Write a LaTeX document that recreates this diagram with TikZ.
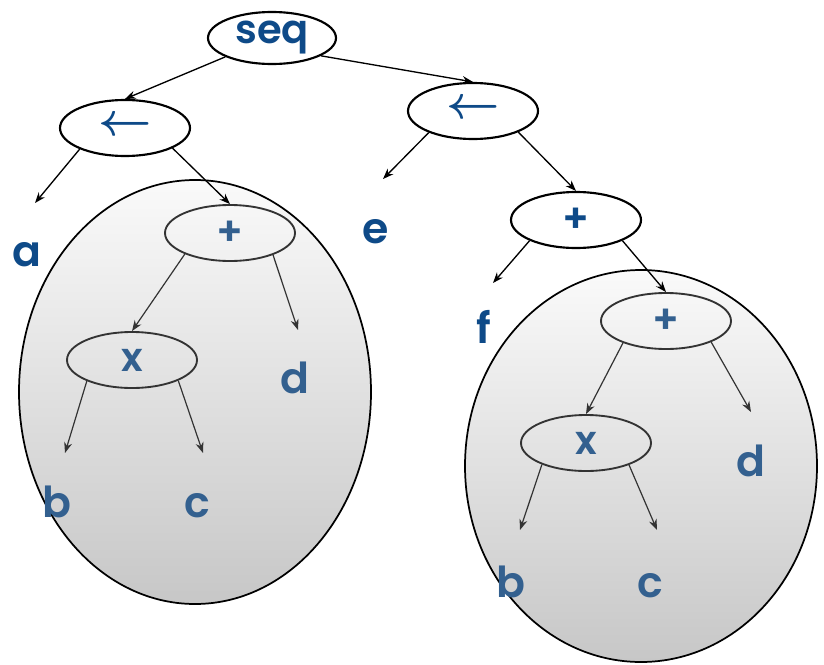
\documentclass[tikz,border=0pt]{standalone}
\usepackage{graphicx}
\usepackage{fontspec}
\setmainfont{Poppins SemiBold}
\usetikzlibrary{shapes.geometric,arrows.meta}
\definecolor{outblue}{HTML}{0E4A88}
\definecolor{inblue}{HTML}{33608F}
\definecolor{ingray}{HTML}{333333}
\newcommand{\larr}{\raisebox{2pt}{\scalebox{1.4}{\boldmath$\leftarrow$}}}
\tikzset{
  opnode/.style={ellipse, draw=black, line width=1.6pt, fill=white, inner sep=0pt,
    minimum width=97.5pt, minimum height=42pt, text=outblue,
    font=\fontsize{30}{30}\selectfont},
  inop/.style={opnode, draw=ingray, line width=1.4pt, fill=none, text=inblue},
  leaf/.style={anchor=base, inner sep=0pt, text=outblue, font=\fontsize{32}{32}\selectfont},
  inleaf/.style={leaf, text=inblue},
  bubble/.style={ellipse, draw=black, line width=1.3pt, top color=black!2, bottom color=black!22, inner sep=0pt},
  conn/.style={draw=black, line width=1pt, -{Stealth[length=8pt,width=6pt]}},
  inconn/.style={conn, draw=ingray, line width=0.9pt, -{Stealth[length=8pt,width=6pt,fill=ingray]}}
}
\begin{document}
\begin{tikzpicture}[x=0.75pt,y=-0.75pt]
\useasboundingbox (0,0) rectangle (824,664);
% bubbles
\node[bubble, minimum width=264pt, minimum height=318pt] (bubL) at (195,392) {};
\node[bubble, minimum width=264pt, minimum height=294pt] (bubR) at (641,466) {};
% operator nodes
\node[opnode, minimum width=96pt, minimum height=39pt] (seq) at (272,38) {seq};
\node[opnode] (L1) at (125,128) {\larr};
\node[opnode] (R1) at (473,111) {\larr};
\node[opnode] (R2) at (576,220) {+};
\node[inop] (L2) at (230,233) {+};
\node[inop] (LX) at (132,360) {x};
\node[inop] (R3) at (666,321) {+};
\node[inop] (RX) at (586,443) {x};
% leaves
\node[leaf] (a) at (27,266) {a};
\node[leaf] (e) at (376,243) {e};
\node[leaf] (f) at (484,343) {f};
\node[inleaf] (dL) at (295,393) {d};
\node[inleaf] (bL) at (57,517) {b};
\node[inleaf] (cL) at (197,517) {c};
\node[inleaf] (dR) at (751,476) {d};
\node[inleaf] (bR) at (511,597) {b};
\node[inleaf] (cR) at (650,597) {c};
% arrow tips above leaves
\coordinate (tA) at (35,203);
\coordinate (tE) at (383,179);
\coordinate (tF) at (493,283);
\coordinate (tDL) at (298,330);
\coordinate (tBL) at (65,453);
\coordinate (tCL) at (203,453);
\coordinate (tDR) at (751,412);
\coordinate (tBR) at (520,530);
\coordinate (tCR) at (657,530);
% connectors
\draw[conn] (seq.202) -- (L1.north);
\draw[conn] (seq.340) -- (R1.north);
\draw[conn] (L1.205) -- (tA);
\draw[conn] (L1.337) -- (L2.north);
\draw[conn] (R1.206) -- (tE);
\draw[conn] (R1.335) -- (R2.north);
\draw[conn] (R2.204) -- (tF);
\draw[conn] (R2.336) -- (R3.north);
\draw[inconn] (L2.205) -- (LX.north);
\draw[inconn] (L2.333) -- (tDL);
\draw[inconn] (LX.205) -- (tBL);
\draw[inconn] (LX.336) -- (tCL);
\draw[inconn] (R3.207) -- (RX.north);
\draw[inconn] (R3.335) -- (tDR);
\draw[inconn] (RX.206) -- (tBR);
\draw[inconn] (RX.333) -- (tCR);
\end{tikzpicture}
\end{document}
